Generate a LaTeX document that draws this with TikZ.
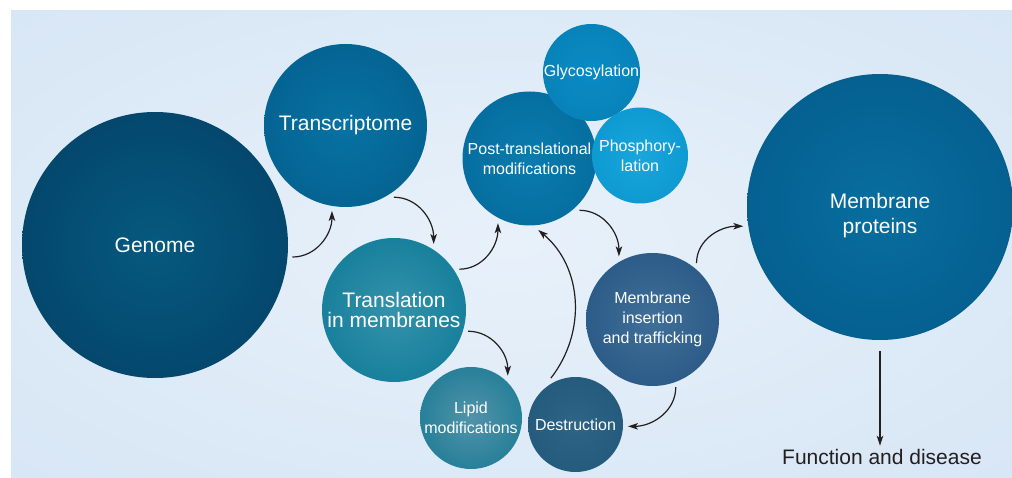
\documentclass[tikz,border=0pt]{standalone}
\usepackage{fontspec}
\setmainfont{Liberation Sans}
\usetikzlibrary{arrows.meta}

\definecolor{panelin}{HTML}{E8F1FA}
\definecolor{panelout}{HTML}{D2E3F4}
\definecolor{ink}{HTML}{231F20}
\definecolor{genomein}{HTML}{06597F}
\definecolor{genomeout}{HTML}{02395F}
\definecolor{transin}{HTML}{0772A3}
\definecolor{transout}{HTML}{025986}
\definecolor{translin}{HTML}{3592AC}
\definecolor{translout}{HTML}{00728F}
\definecolor{lipidin}{HTML}{5293AA}
\definecolor{lipidout}{HTML}{05708B}
\definecolor{postin}{HTML}{097CAE}
\definecolor{postout}{HTML}{036394}
\definecolor{glycoin}{HTML}{0A8BC3}
\definecolor{glycoout}{HTML}{067CB2}
\definecolor{phosin}{HTML}{18A6DD}
\definecolor{phosout}{HTML}{0691C8}
\definecolor{insin}{HTML}{406F99}
\definecolor{insout}{HTML}{1C4C79}
\definecolor{destin}{HTML}{2E6587}
\definecolor{destout}{HTML}{1D5373}
\definecolor{protin}{HTML}{086E9F}
\definecolor{protout}{HTML}{025584}

\pgfdeclareradialshading[discin,discout]{disc}{\pgfpointorigin}{%
  color(0bp)=(discin); color(25bp)=(discin!45!discout); color(50bp)=(discout)}

\tikzset{
  disc/.style n args={3}{circle, inner sep=0pt, outer sep=5pt,
    minimum size=#1, text=white, align=center,
    /utils/exec={\colorlet{discin}{#2}\colorlet{discout}{#3}},
    shading=disc},
  bigtext/.style={font=\fontsize{21}{20}\selectfont},
  smalltext/.style={font=\fontsize{16}{20}\selectfont},
  link/.style={draw=ink, line width=1.2pt, -{Stealth[length=10pt,width=6.5pt,inset=2.5pt]}}
}

\begin{document}
\begin{tikzpicture}[x=1pt,y=1pt]
    \useasboundingbox (0,0) rectangle (1012,-478);
    \colorlet{discin}{panelin}\colorlet{discout}{panelout}
    \shade[shading=disc] (11,-11) rectangle (1012,-478);

    \node[disc={266pt}{genomein}{genomeout}, bigtext] (genome) at (155,-245) {Genome};
    \node[disc={163pt}{transin}{transout}, bigtext] (transcriptome) at (345.5,-125.5) {Transcriptome};
    \node[disc={144pt}{translin}{translout}, bigtext] (translation) at (394,-310) {Translation\\in membranes};
    \node[disc={102pt}{lipidin}{lipidout}, smalltext] (lipid) at (471,-418) {Lipid\\modifications};
    \node[disc={134pt}{postin}{postout}, smalltext] (posttrans) at (529.5,-158.5) {Post-translational\\modifications};
    \node[disc={97pt}{glycoin}{glycoout}, smalltext] (glyco) at (591.5,-72.5) {Glycosylation};
    \node[disc={96pt}{phosin}{phosout}, smalltext] (phospho) at (640,-155.5) {Phosphory-\\lation};
    \node[disc={133pt}{insin}{insout}, smalltext] (insertion) at (652.5,-319.5) {Membrane\\insertion\\and trafficking};
    \node[disc={95pt}{destin}{destout}, smalltext] (destruction) at (575.5,-424.5) {Destruction};
    \node[disc={266pt}{protin}{protout},
        label={[name=proteinstext, bigtext, text=white, align=center, yshift=-9pt]center:Membrane\\[5pt]proteins}]
        (proteins) at (880,-207) {};
    \node[bigtext, text=ink] (fd) at (882,-457) {Function and disease};

    \draw[link] (genome.-5) to[out=0,in=-90] (transcriptome.-99);
    \draw[link] (transcriptome.-56) to[out=0,in=90] (translation.59);
    \draw[link] (translation.32) to[out=0,in=-90] (posttrans.-116);
    \draw[link] (translation.-16) to[out=0,in=90] (lipid.49);
    \draw[link] (posttrans.-46) to[out=0,in=90] (insertion.118);
    \draw[link] (destruction.118) to[out=52,in=-40] (posttrans.-83);
    \draw[link] (insertion.-71) to[out=-90,in=0] (destruction.-2);
    \draw[link] (insertion.52) to[out=90,in=180] (proteins.-172);
    \draw[link] ([yshift=-6pt]proteins.south) -- (proteins.south |- fd.north);
\end{tikzpicture}
\end{document}
